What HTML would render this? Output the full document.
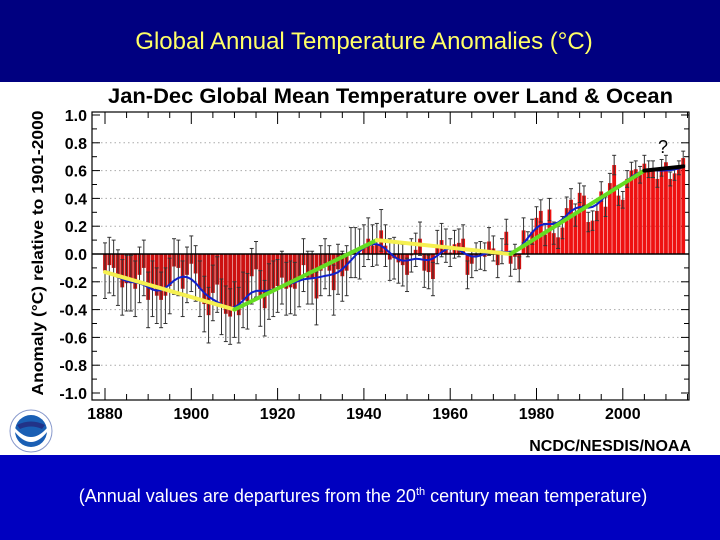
<!DOCTYPE html>
<html><head><meta charset="utf-8">
<style>
html,body{margin:0;padding:0;width:720px;height:540px;overflow:hidden;background:#fff;font-family:"Liberation Sans",Arial,sans-serif}
#top{position:absolute;left:0;top:0;width:720px;height:82px;background:#000080}
#top div{position:absolute;left:0;width:728px;top:28px;text-align:center;color:#ffff66;font-size:24px}
#bot{position:absolute;left:0;top:455px;width:720px;height:85px;background:#0000c0}
#bot div{position:absolute;left:0;width:726px;top:31px;text-align:center;color:#fff;font-size:18px}
svg{position:absolute;left:0;top:82px}
</style></head><body>
<div id="top"><div>Global Annual Temperature Anomalies (°C)</div></div>
<svg id="chart" width="720" height="373" viewBox="0 82 720 373"></svg>
<div id="bot"><div>(Annual values are departures from the 20<sup style="font-size:11px">th</sup> century mean temperature)</div></div>
<script>
const years=[];for(let y=1880;y<=2014;y++)years.push(y);
const anomalies=[-0.12,-0.08,-0.10,-0.17,-0.24,-0.21,-0.21,-0.25,-0.15,-0.10,-0.33,-0.25,-0.30,-0.33,-0.30,-0.23,-0.09,-0.10,-0.25,-0.15,-0.07,-0.14,-0.25,-0.36,-0.44,-0.28,-0.22,-0.38,-0.43,-0.45,-0.40,-0.44,-0.33,-0.34,-0.16,-0.11,-0.32,-0.39,-0.27,-0.25,-0.23,-0.17,-0.25,-0.24,-0.25,-0.19,-0.08,-0.17,-0.17,-0.32,-0.12,-0.07,-0.12,-0.26,-0.11,-0.16,-0.12,0.01,0.01,0.00,0.06,0.11,0.06,0.07,0.17,0.06,-0.04,-0.03,-0.06,-0.08,-0.15,-0.01,0.03,0.11,-0.12,-0.13,-0.18,0.05,0.10,0.06,0.01,0.07,0.08,0.11,-0.15,-0.07,-0.02,-0.01,-0.02,0.09,0.04,-0.08,0.02,0.16,-0.07,-0.02,-0.11,0.17,0.07,0.16,0.26,0.31,0.14,0.32,0.15,0.12,0.19,0.33,0.39,0.28,0.44,0.42,0.23,0.24,0.31,0.45,0.34,0.51,0.64,0.42,0.39,0.54,0.60,0.61,0.57,0.65,0.61,0.61,0.54,0.62,0.66,0.54,0.58,0.62,0.69];
const decadeErr=[0.20,0.20,0.20,0.20,0.19,0.18,0.15,0.12,0.10,0.09,0.08,0.07,0.06,0.05];
const trendYears=[[1880,1910],[1910,1943],[1943,1974],[1974,2005],[2005,2014]];
const trendVals=[[-0.13,-0.40],[-0.40,0.10],[0.10,0.00],[0.00,0.60],[0.60,0.63]];
const trendColors=["#f5f050","#66dd22","#f5f050","#66dd22","#000"];
const yTicks=[1.0,0.8,0.6,0.4,0.2,0.0,-0.2,-0.4,-0.6,-0.8,-1.0];
const xTicks=[1880,1900,1920,1940,1960,1980,2000];

const NS="http://www.w3.org/2000/svg",svg=document.getElementById('chart');
const X=y=>105+(y-1880)*4.315, Y=v=>254-v*139;
const L=92,R=689,T=112,B=400;
function el(t,a,p){const e=document.createElementNS(NS,t);for(const k in a)e.setAttribute(k,a[k]);(p||svg).appendChild(e);return e;}
let e;
e=el('text',{x:108,y:103,'font-size':21,'font-weight':'bold',fill:'#000',textLength:565,lengthAdjust:'spacingAndGlyphs'});e.textContent='Jan-Dec Global Mean Temperature over Land & Ocean';


yTicks.forEach(v=>{if(v!==0&&Math.abs(v)<1){e=el('line',{x1:L,x2:R,y1:Y(v),y2:Y(v),stroke:'#aaa','stroke-dasharray':'1.5,3','stroke-width':1});

}
e=el('text',{x:87,y:Y(v)+6,'text-anchor':'end','font-size':16,'font-weight':'bold'});e.textContent=v.toFixed(1);

});
for(let v=-1.0;v<=1.001;v+=0.1){const mj=Math.round(v*10)%2===0;
el('line',{x1:L,x2:L+(mj?8:5),y1:Y(v),y2:Y(v),stroke:'#000'});el('line',{x1:R,x2:R-(mj?8:5),y1:Y(v),y2:Y(v),stroke:'#000'});}
for(let y=1880;y<=2015;y+=5){const mj=y%20===0;
el('line',{x1:X(y),x2:X(y),y1:B,y2:B-(mj?12:6),stroke:'#000'});el('line',{x1:X(y),x2:X(y),y1:T,y2:T+(mj?12:6),stroke:'#000'});}
xTicks.forEach(y=>{e=el('text',{x:X(y),y:419,'text-anchor':'middle','font-size':16,'font-weight':'bold'});e.textContent=y;

});
anomalies.forEach((v,i)=>{const yr=years[i],x=X(yr);
e=el('rect',{x:x-1.9,width:3.8,y:Math.min(Y(v),Y(0)),height:Math.abs(Y(v)-Y(0)),fill:v<0?'#cc1111':'#ee1111'});


const er=decadeErr[Math.floor((yr-1880)/10)];
el('line',{x1:x,x2:x,y1:Y(v+er),y2:Y(v-er),stroke:'#333','stroke-width':1});
el('line',{x1:x-2,x2:x+2,y1:Y(v+er),y2:Y(v+er),stroke:'#333'});el('line',{x1:x-2,x2:x+2,y1:Y(v-er),y2:Y(v-er),stroke:'#333'});});
el('line',{x1:L,x2:R,y1:Y(0),y2:Y(0),stroke:'#000','stroke-width':1.5});
let pts=anomalies.map((v,i)=>{let s=0,w=0;for(let k=-5;k<=5;k++){const j=i+k;if(j>=0&&j<anomalies.length){const ww=Math.exp(-k*k/10);s+=anomalies[j]*ww;w+=ww;}}return X(years[i]).toFixed(1)+','+Y(s/w).toFixed(1);});
e=el('polyline',{points:pts.join(' '),fill:'none',stroke:'#1020cc','stroke-width':2});


trendYears.forEach((t,i)=>{e=el('line',{x1:X(t[0]),x2:X(t[1]),y1:Y(trendVals[i][0]),y2:Y(trendVals[i][1]),stroke:trendColors[i],'stroke-width':4,'stroke-linecap':'round'});

});
e=el('text',{x:663,y:153,'text-anchor':'middle','font-size':18,fill:'#000'});e.textContent='?';


e=el('rect',{x:L,y:T,width:R-L,height:B-T,fill:'none',stroke:'#000','stroke-width':1.2});


e=el('text',{transform:'translate(43,253) rotate(-90)','text-anchor':'middle','font-size':16,'font-weight':'bold',textLength:285,lengthAdjust:'spacingAndGlyphs'});e.textContent='Anomaly (°C) relative to 1901-2000';


e=el('text',{x:691,y:451,'text-anchor':'end','font-size':16,'font-weight':'bold'});e.textContent='NCDC/NESDIS/NOAA';


const g=el('g',{});


el('circle',{cx:31,cy:431,r:21,fill:'#fff',stroke:'#8899cc'},g);
el('circle',{cx:31,cy:431,r:16,fill:'#1a5fb4'},g);
el('path',{d:'M15,428 Q31,446 47,428 L47,432 Q31,452 15,432Z',fill:'#fff'},g);
el('path',{d:'M17,425 Q31,418 45,425 L42,429 Q31,424 20,429Z',fill:'#223388'},g);
</script>
</body></html>
